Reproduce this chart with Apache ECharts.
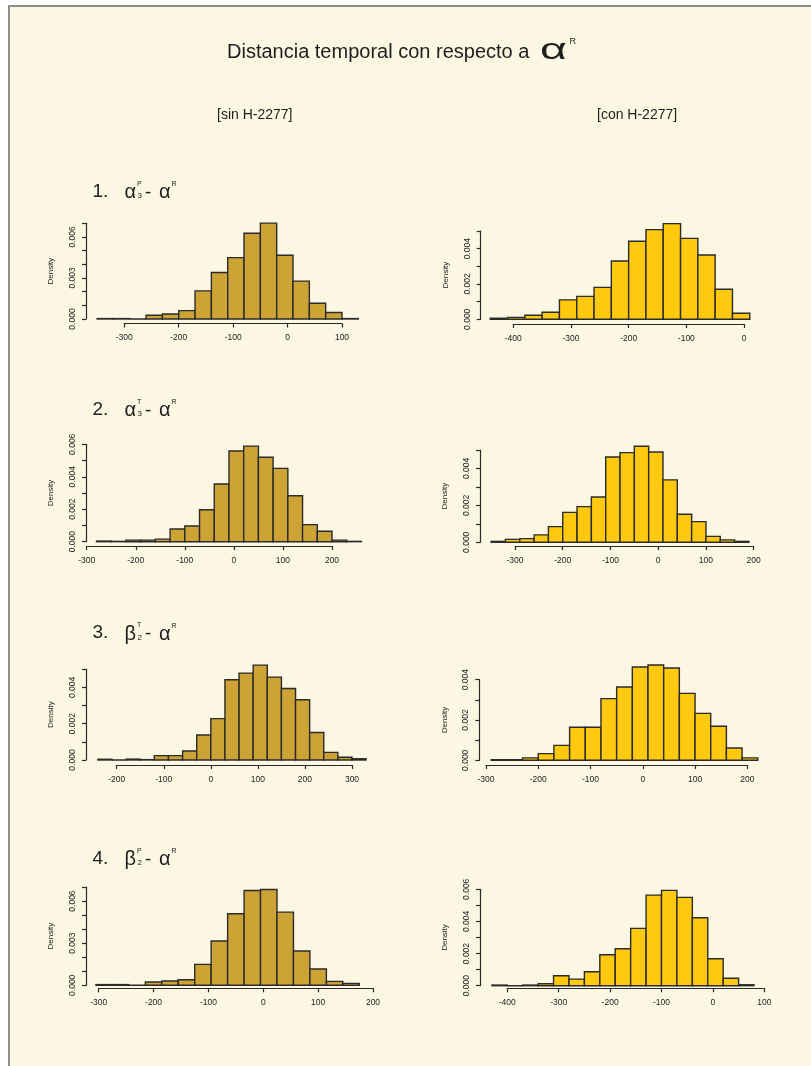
<!DOCTYPE html>
<html>
<head>
<meta charset="utf-8">
<script src="https://cdn.jsdelivr.net/npm/echarts@6/dist/echarts.min.js"></script>
<style>
  body { margin: 0; background: #ffffff; }
  #bg { position: absolute; left: 8px; top: 5px; width: 803px; height: 1061px;
        background: #fbf7e2; border-top: 2px solid #8c8c8c; border-left: 2px solid #8c8c8c; box-sizing: border-box; }
  #main { position: absolute; left: 0; top: 0; width: 811px; height: 1066px; }
</style>
</head>
<body>
<div id="bg"></div>
<div id="main"></div>
<script>
// histogram data: first break and densities (bin width 30)
var binWidth = 30;

var from1L = -350;
var dens1L = [0.00003, 0.00003, 0, 0.00027, 0.00037, 0.00061, 0.00206, 0.0034, 0.00449, 0.00627, 0.00701, 0.00466, 0.00277, 0.00115, 0.00047, 0.00003];
var from1R = -440;
var dens1R = [0.00006, 0.00011, 0.00023, 0.0004, 0.0011, 0.0013, 0.00181, 0.0033, 0.00442, 0.00508, 0.00542, 0.00458, 0.00364, 0.0017, 0.00034];

var from2L = -280;
var dens2L = [0.00004, 0.00002, 0.0001, 0.0001, 0.00016, 0.00078, 0.00097, 0.00197, 0.00355, 0.00559, 0.00589, 0.0052, 0.00452, 0.00283, 0.00105, 0.00064, 0.0001, 0.00002];
var from2R = -350;
var dens2R = [0.00005, 0.00016, 0.0002, 0.0004, 0.00085, 0.00162, 0.00193, 0.00245, 0.00462, 0.00486, 0.0052, 0.00489, 0.00338, 0.00152, 0.00112, 0.00032, 0.00013, 0.00005];

var from3L = -240;
var dens3L = [0.00004, 0, 0.00005, 0.00002, 0.00024, 0.00024, 0.0005, 0.00138, 0.00228, 0.00442, 0.00479, 0.00523, 0.00457, 0.00394, 0.00332, 0.00152, 0.00042, 0.00015, 0.00007];
var from3R = -290;
var dens3R = [0.00003, 0.00003, 0.00012, 0.00033, 0.00074, 0.00164, 0.00164, 0.00306, 0.00364, 0.00463, 0.00473, 0.00458, 0.00332, 0.00233, 0.00169, 0.00061, 0.00012];

var from4L = -305;
var dens4L = [0.00005, 0.00005, 0, 0.00024, 0.00031, 0.0004, 0.00149, 0.00315, 0.0051, 0.00675, 0.00682, 0.00521, 0.00244, 0.00116, 0.00028, 0.00014];
var from4R = -430;
var dens4R = [0.00004, 0, 0.00004, 0.00012, 0.00062, 0.00041, 0.00087, 0.00193, 0.0023, 0.00357, 0.00564, 0.00593, 0.0055, 0.00423, 0.00168, 0.00046, 0.00006];

// axis ranges and tick labels
var xRange1L = [-300, 100], xRange1R = [-400, 0];
var xRange2L = [-300, 200], xRange2R = [-300, 200];
var xRange3L = [-200, 300], xRange3R = [-300, 200];
var xRange4L = [-300, 200], xRange4R = [-400, 100];
var yTop = [0.007, 0.005, 0.006, 0.005, 0.005, 0.004, 0.007, 0.006];
var yLabels3 = ['0.000', '0.003', '0.006'];
var yLabels2 = ['0.000', '0.002', '0.004', '0.006'];

var panelNums = ['1.', '2.', '3.', '4.'];
var greek = ['α', 'α', 'β', 'β'];
var subs = ['3', '3', '2', '2'];
var sups = ['P', 'T', 'T', 'P'];

var gold = '#cda335', yellow = '#fec90f';

var froms = [from1L, from1R, from2L, from2R, from3L, from3R, from4L, from4R];
var dens = [dens1L, dens1R, dens2L, dens2R, dens3L, dens3R, dens4L, dens4R];
var xRanges = [xRange1L, xRange1R, xRange2L, xRange2R, xRange3L, xRange3R, xRange4L, xRange4R];
var yLabelSets = [yLabels3, yLabels2, yLabels2, yLabels2, yLabels2, yLabels2, yLabels3, yLabels2];

// panel placement (pixels): grid spans tick range; offsets move axes to R's plot box
var layout = [
  {left: 124.3, width: 217.7, top: 223.3, height: 95.7, yOff: 38.3, xOff: 4.5},
  {left: 513.3, width: 230.7, top: 231.0, height: 88.3, yOff: 32.6, xOff: 4.7},
  {left: 86.7,  width: 245.3, top: 444.3, height: 97.4, yOff: 0.7,  xOff: 4.3},
  {left: 515.0, width: 238.7, top: 450.0, height: 92.3, yOff: 35.0, xOff: 3.7},
  {left: 116.7, width: 235.3, top: 669.3, height: 90.7, yOff: 30.7, xOff: 5.0},
  {left: 486.0, width: 261.3, top: 679.7, height: 80.6, yOff: 6.7,  xOff: 4.7},
  {left: 98.7,  width: 274.3, top: 887.0, height: 98.3, yOff: 12.7, xOff: 3.0},
  {left: 507.3, width: 257.0, top: 889.3, height: 96.4, yOff: 27.3, xOff: 2.6}
];

var axisColor = '#2a2a2a';
var font = 'Liberation Sans';

var grids = [], xAxes = [], yAxes = [], series = [];
layout.forEach(function (L, i) {
  grids.push({left: L.left, top: L.top, width: L.width, height: L.height});
  xAxes.push({
    type: 'value', gridIndex: i, min: xRanges[i][0], max: xRanges[i][1], interval: 100,
    position: 'bottom', offset: L.xOff,
    axisLine: {show: true, onZero: false, lineStyle: {color: axisColor, width: 1.2}},
    axisTick: {show: true, length: 4, lineStyle: {color: axisColor, width: 1.2}},
    splitLine: {show: false},
    axisLabel: {fontSize: 8.5, color: '#222', margin: 10, fontFamily: font}
  });
  var labs = yLabelSets[i];
  yAxes.push({
    type: 'value', gridIndex: i, min: 0, max: yTop[i], interval: 0.001,
    position: 'left', offset: L.yOff,
    name: 'Density', nameLocation: 'middle', nameRotate: 90, nameGap: 31,
    nameTextStyle: {fontSize: 8, color: '#222', fontFamily: font},
    axisLine: {show: true, onZero: false, lineStyle: {color: axisColor, width: 1.2}},
    axisTick: {show: true, length: 4, lineStyle: {color: axisColor, width: 1.2}},
    splitLine: {show: false},
    axisLabel: {
      fontSize: 8.5, color: '#222', margin: 9, rotate: 90, fontFamily: font,
      formatter: function (v) { var s = v.toFixed(3); return labs.indexOf(s) >= 0 ? s : ''; }
    }
  });
  var rows = dens[i].map(function (d, k) {
    var x0 = froms[i] + k * binWidth;
    return [x0, x0 + binWidth, d];
  });
  var fill = (i % 2 === 0) ? gold : yellow;
  series.push({
    type: 'custom', xAxisIndex: i, yAxisIndex: i, clip: false,
    encode: {x: [0, 1], y: 2},
    data: rows,
    renderItem: function (params, api) {
      var a = api.coord([api.value(0), api.value(2)]);
      var b = api.coord([api.value(1), 0]);
      return {
        type: 'rect',
        shape: {x: a[0], y: a[1], width: b[0] - a[0], height: b[1] - a[1]},
        style: {fill: fill, stroke: '#2b2b2b', lineWidth: 1.4}
      };
    }
  });
});

function txt(str, x, y, size, family) {
  return {
    type: 'text', x: x, y: y, silent: true,
    style: {text: str, font: size + 'px "' + family + '"', fill: '#1e1e1e',
            textAlign: 'left', textVerticalAlign: 'middle'}
  };
}

var graphics = [];
graphics.push(txt('Distancia temporal con respecto a', 227, 52.5, 20, font));
var bigAlpha = txt('α', 540, 51, 30, font);
bigAlpha.scaleX = 1.55;
graphics.push(bigAlpha);
graphics.push(txt('R', 569.5, 42, 9, font));
graphics.push(txt('[sin H-2277]', 217, 115, 14, font));
graphics.push(txt('[con H-2277]', 597, 115, 14, font));

var rowY = [191.5, 409.5, 633, 858.5];
rowY.forEach(function (y, r) {
  graphics.push(txt(panelNums[r], 92.5, y, 19, font));
  graphics.push(txt(greek[r], 124.5, y + 1, 20, font));
  graphics.push(txt(sups[r], 137, y - 7.5, 7, font));
  graphics.push(txt(subs[r], 137.5, y + 4.5, 8, font));
  graphics.push(txt('-', 145, y + 1, 19, font));
  graphics.push(txt('α', 159, y + 1, 20, font));
  graphics.push(txt('R', 171.5, y - 7, 7, font));
});

var myChart = echarts.init(document.getElementById('main'));
myChart.setOption({
  animation: false,
  textStyle: {fontFamily: font},
  grid: grids,
  xAxis: xAxes,
  yAxis: yAxes,
  series: series,
  graphic: graphics
});
</script>
</body>
</html>
